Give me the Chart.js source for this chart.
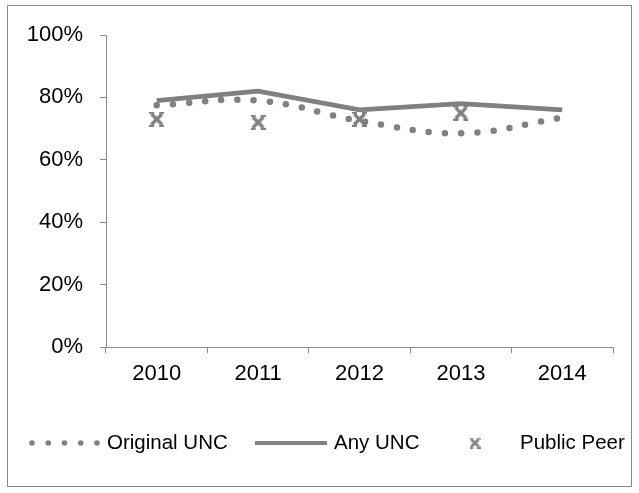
<!DOCTYPE html>
<html>
<head>
<meta charset="utf-8">
<script src="https://cdn.jsdelivr.net/npm/chart.js@4/dist/chart.umd.min.js"></script>
<style>
  html, body { margin: 0; padding: 0; background: #fff; }
  #wrap { width: 639px; height: 493px; position: relative; }
</style>
</head>
<body>
<div id="wrap"><canvas id="chart"></canvas></div>
<script>
// data (percent)
const years = ['2010', '2011', '2012', '2013', '2014'];
const originalUNC = [77.5, 79, 72.5, 68.5, 73.5];
const anyUNC = [79, 82, 76, 78, 76];
const publicPeer = [73, 72, 73, 75, null];
const seriesNames = ['Original UNC', 'Any UNC', 'Public Peer'];

const gray = '#808080';
const axisGray = '#898989';
const fontFamily = '"Liberation Sans", Arial, sans-serif';

// X marker with small flat serifs at the tips
function makeMarker(size, lw, serif) {
    const c = document.createElement('canvas');
    c.width = size; c.height = size;
    const g = c.getContext('2d');
    const a = lw / 2 + 0.5, b = size - lw / 2 - 0.5;
    g.strokeStyle = gray;
    g.lineCap = 'butt';
    g.lineWidth = lw;
    g.beginPath();
    g.moveTo(a, a); g.lineTo(b, b);
    g.moveTo(b, a); g.lineTo(a, b);
    g.stroke();
    g.lineWidth = lw * 0.6;
    const t = lw * 0.3, bt = size - lw * 0.3;
    g.beginPath();
    g.moveTo(0, t); g.lineTo(serif, t);
    g.moveTo(size - serif, t); g.lineTo(size, t);
    g.moveTo(0, bt); g.lineTo(serif, bt);
    g.moveTo(size - serif, bt); g.lineTo(size, bt);
    g.stroke();
    return c;
}
const peerMarker = makeMarker(15, 3.4, 5);
const legendMarker = makeMarker(11, 2.8, 3.5);

// frame + legend row drawn by hand
const legendRow = {
    id: 'legendRow',
    afterDraw(chart) {
        const ctx = chart.ctx;
        const ds = chart.data.datasets;
        const y = 443;
        ctx.save();
        ctx.strokeStyle = axisGray;
        ctx.lineWidth = 1;
        ctx.strokeRect(7.5, 5.5, 624, 481);

        ctx.fillStyle = gray;
        for (let i = 0; i < 5; i++) {
            ctx.beginPath();
            ctx.arc(32 + 16.25 * i, y, 2.8, 0, Math.PI * 2);
            ctx.fill();
        }
        ctx.strokeStyle = gray;
        ctx.lineWidth = 4;
        ctx.beginPath();
        ctx.moveTo(255, y); ctx.lineTo(327, y);
        ctx.stroke();
        ctx.drawImage(legendMarker, 475 - legendMarker.width / 2, y - legendMarker.height / 2);

        ctx.fillStyle = '#000';
        ctx.font = '20.5px ' + fontFamily;
        ctx.textBaseline = 'middle';
        ctx.fillText(ds[0].label, 107, y);
        ctx.fillText(ds[1].label, 334, y);
        ctx.fillText(ds[2].label, 520, y);
        ctx.restore();
    }
};

const ctx = document.getElementById('chart').getContext('2d');
const myChart = new Chart(ctx, {
    type: 'line',
    data: {
        labels: years,
        datasets: [
            {
                label: seriesNames[0],
                data: originalUNC,
                borderColor: gray,
                borderWidth: 6.5,
                borderDash: [0, 16.2],
                borderCapStyle: 'round',
                tension: 0.4,
                pointRadius: 0,
                fill: false
            },
            {
                label: seriesNames[1],
                data: anyUNC,
                borderColor: gray,
                borderWidth: 4.8,
                tension: 0,
                pointRadius: 0,
                fill: false
            },
            {
                label: seriesNames[2],
                data: publicPeer,
                showLine: false,
                pointStyle: peerMarker,
                pointRadius: 7,
                borderColor: gray,
                backgroundColor: gray
            }
        ]
    },
    options: {
        responsive: true,
        maintainAspectRatio: false,
        animation: false,
        devicePixelRatio: 1,
        layout: { padding: { left: 0, right: 26, top: 35, bottom: 96 } },
        plugins: {
            legend: { display: false },
            tooltip: { enabled: false }
        },
        scales: {
            x: {
                offset: true,
                grid: { offset: true, drawOnChartArea: false, tickLength: 6, color: axisGray },
                border: { color: axisGray, width: 1 },
                ticks: { color: '#000', font: { size: 22, family: fontFamily }, padding: 8, maxRotation: 0 },
                afterFit: s => { s.height = 50; }
            },
            y: {
                min: 0,
                max: 100,
                grid: { drawOnChartArea: false, tickLength: 6, color: axisGray },
                border: { color: axisGray, width: 1 },
                ticks: {
                    stepSize: 20,
                    color: '#000',
                    font: { size: 22, family: fontFamily },
                    padding: 17,
                    callback: v => v + '%'
                },
                afterFit: s => { s.width = 106; }
            }
        }
    },
    plugins: [legendRow]
});
</script>
</body>
</html>
